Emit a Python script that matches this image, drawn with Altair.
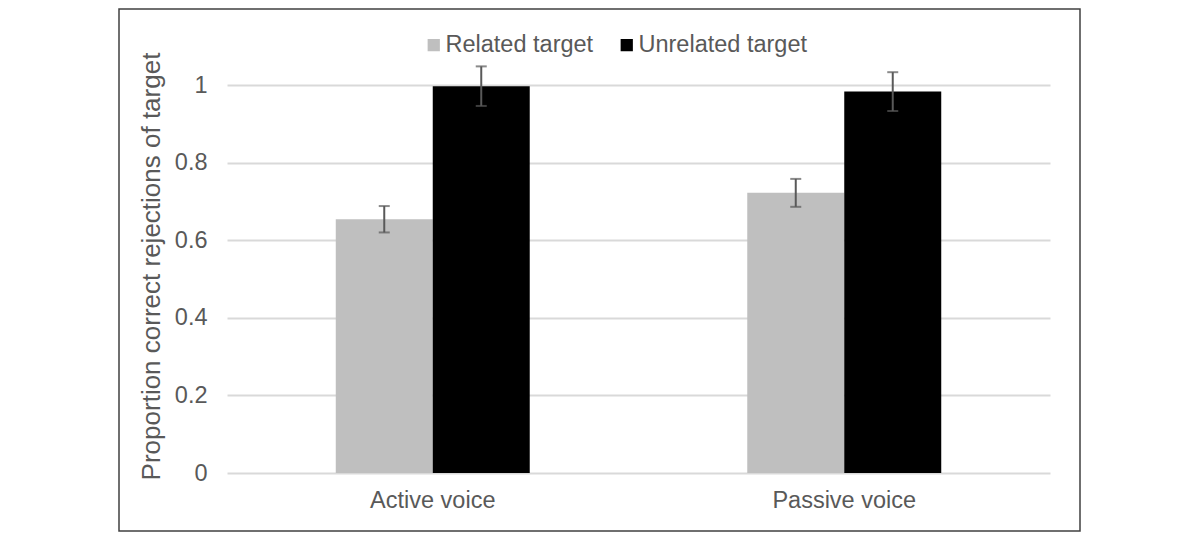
import altair as alt
import pandas as pd

categories = ["Active voice", "Passive voice"]
series = ["Related target", "Unrelated target"]
related = [0.654, 0.722]
related_err = [0.034, 0.036]
unrelated = [0.997, 0.983]
unrelated_err = [0.051, 0.050]
colors = ["#bfbfbf", "#000000"]

rows = []
for i, c in enumerate(categories):
    rows.append({"voice": c, "target": series[0], "value": related[i],
                 "lo": related[i] - related_err[i], "hi": related[i] + related_err[i]})
    rows.append({"voice": c, "target": series[1], "value": unrelated[i],
                 "lo": unrelated[i] - unrelated_err[i], "hi": unrelated[i] + unrelated_err[i]})
df = pd.DataFrame(rows)

FONT = "Liberation Sans"
TXT = "#595959"
W, H = 823, 388
LAB = 23.5

x = alt.X("voice:N", sort=categories, title=None,
          scale=alt.Scale(paddingInner=0.5286, paddingOuter=0.2643),
          axis=alt.Axis(domain=False, ticks=False, labelAngle=0, labelFontSize=LAB,
                        labelColor=TXT, labelFont=FONT, labelPadding=15))
xo = alt.XOffset("target:N", sort=series, scale=alt.Scale(paddingInner=0, paddingOuter=0))
yscale = alt.Scale(domain=[0, 1], nice=False, zero=True)

bars = alt.Chart(df).mark_bar(clip=False).encode(
    x=x, xOffset=xo,
    y=alt.Y("value:Q", scale=yscale,
            title="Proportion correct rejections of target",
            axis=alt.Axis(values=[0, 0.2, 0.4, 0.6, 0.8, 1], format="~g",
                          domain=False, ticks=False, grid=True, gridColor="#d9d9d9",
                          gridWidth=2, labelFontSize=LAB, labelColor=TXT, labelFont=FONT,
                          labelPadding=20, titleFontSize=26, titleFont=FONT,
                          titleFontWeight="normal", titleColor=TXT,
                          titleX=-63, titleY=181)),
    color=alt.Color("target:N", sort=series,
                    scale=alt.Scale(domain=series, range=colors),
                    legend=alt.Legend(title=None, orient="none", direction="horizontal",
                                      legendX=195, legendY=-52, symbolType="square",
                                      symbolSize=150, symbolStrokeWidth=0,
                                      labelFontSize=LAB, labelFont=FONT, labelColor=TXT,
                                      labelLimit=400, labelOffset=0, columnPadding=21)),
)

rules = alt.Chart(df).mark_rule(color="#595959", strokeWidth=2, clip=False).encode(
    x=x, xOffset=xo, y=alt.Y("lo:Q", scale=yscale), y2="hi:Q")
caps_lo = alt.Chart(df).mark_tick(color="#595959", thickness=2, size=11, clip=False).encode(
    x=x, xOffset=xo, y=alt.Y("lo:Q", scale=yscale))
caps_hi = alt.Chart(df).mark_tick(color="#595959", thickness=2, size=11, clip=False).encode(
    x=x, xOffset=xo, y=alt.Y("hi:Q", scale=yscale))

border = alt.Chart(alt.Data(values=[{}])).mark_rect(
    fill=None, stroke="#404040", strokeWidth=1.5, clip=False).encode(
    x=alt.value(-108), x2=alt.value(853), y=alt.value(-76), y2=alt.value(446))

chart = alt.layer(bars, rules, caps_lo, caps_hi, border).properties(
    width=W, height=H,
    autosize=alt.AutoSizeParams(type="none"),
    padding={"left": 219, "top": 77, "right": 120, "bottom": 60},
    background="white",
).configure_view(stroke=None)

chart.save("out.html", embed_options={"renderer": "svg", "actions": False})
